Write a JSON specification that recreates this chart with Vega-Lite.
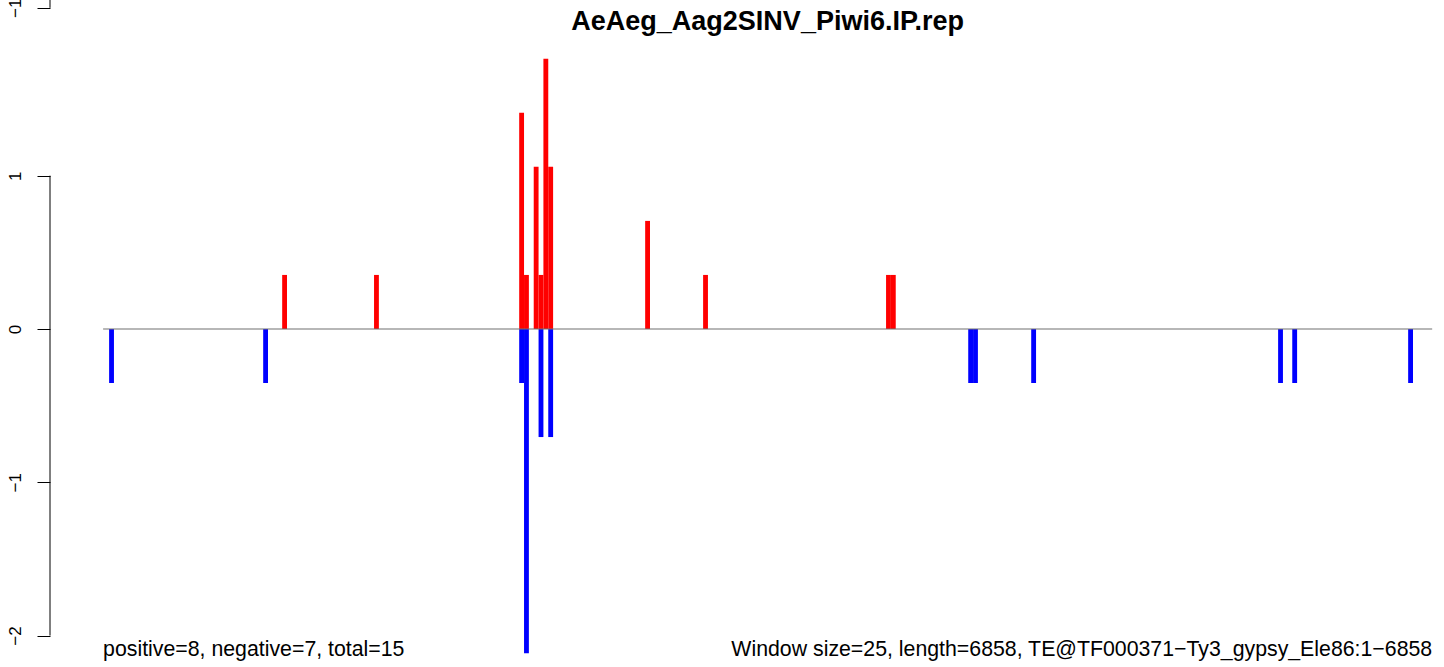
{
  "$schema": "https://vega.github.io/schema/vega-lite/v6.json",
  "width": 1394,
  "height": 667,
  "autosize": {"type": "none"},
  "padding": {"left": 50, "top": 0, "right": 0, "bottom": 0},
  "background": "white",
  "config": {"view": {"stroke": null}, "font": "Liberation Sans"},
  "datasets": {
    "bars": [
      {"start": 924, "end": 949, "value": 0.3525, "strand": "plus"},
      {"start": 1398, "end": 1423, "value": 0.3525, "strand": "plus"},
      {"start": 2147, "end": 2172, "value": 1.41, "strand": "plus"},
      {"start": 2172, "end": 2197, "value": 0.3525, "strand": "plus"},
      {"start": 2222, "end": 2247, "value": 1.0575, "strand": "plus"},
      {"start": 2247, "end": 2272, "value": 0.3525, "strand": "plus"},
      {"start": 2272, "end": 2297, "value": 1.7625, "strand": "plus"},
      {"start": 2297, "end": 2322, "value": 1.0575, "strand": "plus"},
      {"start": 2797, "end": 2822, "value": 0.705, "strand": "plus"},
      {"start": 3096, "end": 3121, "value": 0.3525, "strand": "plus"},
      {"start": 4040, "end": 4065, "value": 0.3525, "strand": "plus"},
      {"start": 4065, "end": 4090, "value": 0.3525, "strand": "plus"},
      {"start": 31, "end": 56, "value": -0.3525, "strand": "minus"},
      {"start": 826, "end": 851, "value": -0.3525, "strand": "minus"},
      {"start": 2147, "end": 2172, "value": -0.3525, "strand": "minus"},
      {"start": 2172, "end": 2197, "value": -2.115, "strand": "minus"},
      {"start": 2247, "end": 2272, "value": -0.705, "strand": "minus"},
      {"start": 2297, "end": 2322, "value": -0.705, "strand": "minus"},
      {"start": 4464, "end": 4489, "value": -0.3525, "strand": "minus"},
      {"start": 4489, "end": 4514, "value": -0.3525, "strand": "minus"},
      {"start": 4789, "end": 4814, "value": -0.3525, "strand": "minus"},
      {"start": 6063, "end": 6088, "value": -0.3525, "strand": "minus"},
      {"start": 6136, "end": 6161, "value": -0.3525, "strand": "minus"},
      {"start": 6734, "end": 6759, "value": -0.3525, "strand": "minus"}
    ],
    "base": [{"start": 0, "end": 6858, "value": 0}],
    "titleRow": [{"label": "AeAeg_Aag2SINV_Piwi6.IP.rep", "pos": 3429, "val": 1.95}],
    "notesLeft": [{"label": "positive=8, negative=7, total=15", "pos": 0, "val": -2.133}],
    "notesRight": [{"label": "Window size=25, length=6858, TE@TF000371−Ty3_gypsy_Ele86:1−6858", "pos": 6858, "val": -2.133}]
  },
  "layer": [
    {
      "data": {"name": "bars"},
      "mark": {"type": "rect"},
      "encoding": {
        "x": {"field": "start", "type": "quantitative", "scale": {"domain": [-274, 6919], "nice": false, "zero": false}, "axis": null},
        "x2": {"field": "end"},
        "y": {
          "field": "value", "type": "quantitative",
          "scale": {"domain": [-2.205, 2.146], "nice": false, "zero": false},
          "axis": {
            "orient": "left",
            "values": [-2, -1, 0, 1, 2.095],
            "labelExpr": "datum.value > 2 ? '−1' : format(datum.value, 'd')",
            "domain": false,
            "grid": false,
            "title": null,
            "ticks": true,
            "tickSize": 13,
            "tickWidth": 1,
            "tickColor": "black",
            "labelAngle": 270,
            "labelFontSize": 17,
            "labelFont": "Liberation Sans",
            "labelColor": "black",
            "labelPadding": 13,
            "labelBaseline": "bottom",
            "labelAlign": "center"
          }
        },
        "y2": {"datum": 0},
        "color": {"field": "strand", "type": "nominal", "scale": {"domain": ["plus", "minus"], "range": ["#FF0000", "#0000FF"]}, "legend": null}
      }
    },
    {
      "data": {"name": "base"},
      "mark": {"type": "rule", "color": "#707070", "strokeWidth": 1.2},
      "encoding": {
        "x": {"field": "start", "type": "quantitative"},
        "x2": {"field": "end"},
        "y": {"field": "value", "type": "quantitative"}
      }
    },
    {
      "data": {"name": "base"},
      "mark": {"type": "rule", "color": "black", "strokeWidth": 1},
      "encoding": {
        "x": {"datum": -274, "type": "quantitative"},
        "y": {"datum": -2, "type": "quantitative"},
        "y2": {"datum": 1}
      }
    },
    {
      "data": {"name": "base"},
      "mark": {"type": "rule", "color": "black", "strokeWidth": 1},
      "encoding": {
        "x": {"datum": -274, "type": "quantitative"},
        "y": {"datum": 2.095, "type": "quantitative"},
        "y2": {"datum": 2.146}
      }
    },
    {
      "data": {"name": "titleRow"},
      "mark": {"type": "text", "align": "center", "baseline": "alphabetic", "fontSize": 27, "fontWeight": "bold", "font": "Liberation Sans", "color": "black"},
      "encoding": {
        "x": {"field": "pos", "type": "quantitative"},
        "y": {"field": "val", "type": "quantitative"},
        "text": {"field": "label"}
      }
    },
    {
      "data": {"name": "notesLeft"},
      "mark": {"type": "text", "align": "left", "baseline": "alphabetic", "fontSize": 21.3, "font": "Liberation Sans", "color": "black"},
      "encoding": {
        "x": {"field": "pos", "type": "quantitative"},
        "y": {"field": "val", "type": "quantitative"},
        "text": {"field": "label"}
      }
    },
    {
      "data": {"name": "notesRight"},
      "mark": {"type": "text", "align": "right", "baseline": "alphabetic", "fontSize": 21.3, "font": "Liberation Sans", "color": "black"},
      "encoding": {
        "x": {"field": "pos", "type": "quantitative"},
        "y": {"field": "val", "type": "quantitative"},
        "text": {"field": "label"}
      }
    }
  ]
}
